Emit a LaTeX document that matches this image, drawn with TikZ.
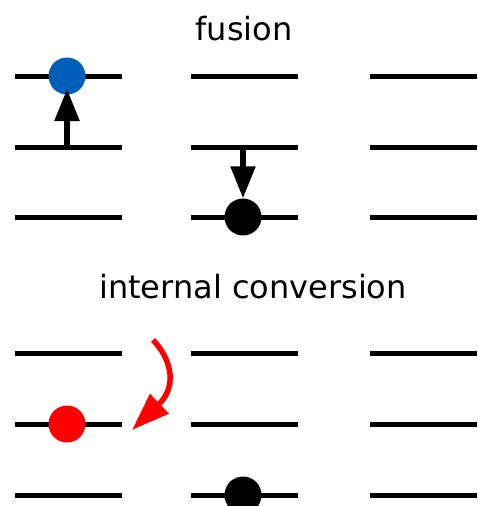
\documentclass[tikz,border=0pt]{standalone}
\usepackage{fontspec}
\setmainfont{DejaVu Sans}
\usetikzlibrary{arrows.meta}
\begin{document}
\begin{tikzpicture}[x=1pt,y=-1pt,
  level/.style={line width=5pt},
  dot/.style={circle,minimum size=37pt,inner sep=0pt},
  trans/.style={line width=5.5pt,-{Triangle[length=32pt,width=24pt]}},
  lbl/.style={font=\fontsize{32}{38}\selectfont,anchor=base}]
\useasboundingbox (0,0) rectangle (477,506);
% titles
\node[lbl] (t1) at (244,40) {fusion};
\node[lbl] (t2) at (253,298) {internal conversion};
% levels
\foreach \c/\x in {a/15,b/191,c/370}{
  \foreach \r/\y in {1/76,2/147,3/217,4/353,5/424,6/495}{
    \coordinate (\c\r L) at (\x,\y);
    \coordinate (\c\r R) at (\x+107,\y);
    \draw[level] (\c\r L) -- (\c\r R);
  }
}
% particles
\node[dot,fill={rgb,255:red,0;green,94;blue,184}] (blue) at (67,76) {};
\node[dot,fill=black] (blk1) at (243,217) {};
\node[dot,fill=red] (rd) at (67,424) {};
\node[dot,fill=black] (blk2) at (243,495) {};
% transitions
\coordinate (s1) at (67,147);
\coordinate (e1) at (67,89);
\draw[trans] (s1) -- (e1);
\coordinate (s2) at (243,147);
\draw[trans] (s2) -- (blk1.north);
\coordinate (r1) at (153,340);
\coordinate (r2) at (132,430);
\draw[line width=5.5pt,red,-{Triangle[length=38pt,width=26pt]}] (r1) .. controls (168,355) and (180,384) .. (r2);
\end{tikzpicture}
\end{document}
